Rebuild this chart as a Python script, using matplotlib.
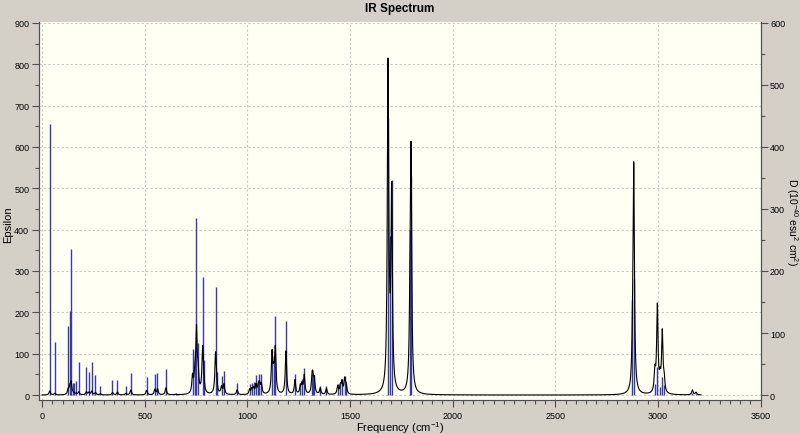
import numpy as np
import matplotlib.pyplot as plt
from matplotlib.ticker import MultipleLocator

# harmonic frequencies (cm-1), stick heights (left-axis units) and epsilon peak heights
freq = [37, 62, 127, 135, 141, 150, 156, 167, 179, 216, 228, 242, 260, 284,
        343, 367, 408, 432, 509, 549, 562, 603, 650,
        733, 744, 752, 760, 782, 787, 845, 850, 874, 886, 950,
        1011, 1022, 1030, 1042, 1053, 1059, 1068, 1120, 1128, 1136, 1188,
        1232, 1258, 1266, 1277, 1315, 1319, 1326, 1355, 1385,
        1440, 1453, 1461, 1474, 1481,
        1685, 1693, 1703, 1792, 1797,
        2876, 2882, 2985, 2997, 3010, 3021, 3030, 3168, 3185]
stick = [655, 128, 167, 203, 352, 30, 30, 35, 81, 68, 55, 79, 49, 22,
         37, 37, 22, 53, 43, 51, 54, 63, 5,
         111, 107, 429, 125, 286, 85, 262, 55, 45, 58, 30,
         27, 28, 32, 49, 36, 50, 52, 107, 95, 191, 178,
         52, 30, 39, 65, 51, 46, 48, 22, 22,
         27, 28, 39, 46, 27,
         670, 385, 521, 400, 530,
         230, 280, 26, 68, 20, 43, 25, 5, 3]
eps = [10, 4, 12, 15, 28, 3, 3, 3, 7, 7, 6, 9, 6, 3,
       6, 7, 4, 12, 11, 13, 14, 17, 1,
       40, 40, 150, 45, 105, 25, 95, 20, 18, 24, 12,
       12, 12, 14, 22, 16, 23, 24, 95, 40, 105, 105,
       35, 18, 22, 45, 35, 32, 33, 15, 15,
       20, 20, 28, 35, 20,
       780, 60, 470, 120, 565,
       60, 545, 50, 210, 30, 145, 30, 12, 6]

hwhm = 4.0
nu = np.arange(0, 3210, 0.5)
curve = np.zeros_like(nu)
for f, a in zip(freq, eps):
    curve += a / (1 + ((nu - f) / hwhm) ** 2)

plt.rcParams['font.family'] = ['Liberation Sans', 'DejaVu Sans']
plt.rcParams['mathtext.default'] = 'regular'

fig = plt.figure(figsize=(8, 4.35), dpi=100, facecolor='#d4d0c8')
ax = fig.add_axes([39 / 800, 1 - 401 / 435, 722 / 800, 378 / 435])
ax.set_facecolor('#fffff4')

ax.vlines(freq, 0, stick, color='#3a3aa6', lw=1.0, zorder=2)
ax.plot(nu, curve, color='black', lw=0.8, zorder=3)

ax.set_xlim(-15, 3502)
ax.set_ylim(-12, 902)
ax.xaxis.set_major_locator(MultipleLocator(500))
ax.xaxis.set_minor_locator(MultipleLocator(50))
ax.yaxis.set_major_locator(MultipleLocator(100))
ax.yaxis.set_minor_locator(MultipleLocator(50))
ax.grid(True, which='major', color='#c8c8c8', lw=0.8, linestyle=(0, (2, 2)), zorder=0)
ax.set_axisbelow(True)

ax2 = ax.twinx()
ax2.set_ylim(-12 / 1.5, 902 / 1.5)
ax2.yaxis.set_major_locator(MultipleLocator(100))
ax2.yaxis.set_minor_locator(MultipleLocator(50))

for a in (ax, ax2):
    a.spines['top'].set_visible(False)
    for s in ('left', 'right', 'bottom'):
        a.spines[s].set_color('#505050')
        a.spines[s].set_linewidth(0.8)
    a.tick_params(which='major', length=5, width=0.8, color='#505050',
                  labelsize=6.5, pad=2)
    a.tick_params(which='minor', length=3, width=0.8, color='#505050')
ax.tick_params(axis='x', which='major', pad=3)
ax2.tick_params(which='major', pad=1.5)

fig.text(400 / 800, 1 - 9 / 435, 'IR Spectrum', fontsize=8.5, fontweight='bold',
         ha='center', va='center')
fig.text(400 / 800, 1 - 428 / 435, 'Frequency (cm$^{-1}$)', fontsize=8,
         ha='center', va='center')
fig.text(8 / 800, 1 - 225 / 435, 'Epsilon', fontsize=8, rotation=90,
         ha='center', va='center')
fig.text(792 / 800, 1 - 222 / 435, 'D (10$^{-40}$ esu$^2$ cm$^2$)', fontsize=7.5,
         rotation=270, ha='center', va='center')

fig.savefig('out.png', dpi=100, facecolor=fig.get_facecolor())
